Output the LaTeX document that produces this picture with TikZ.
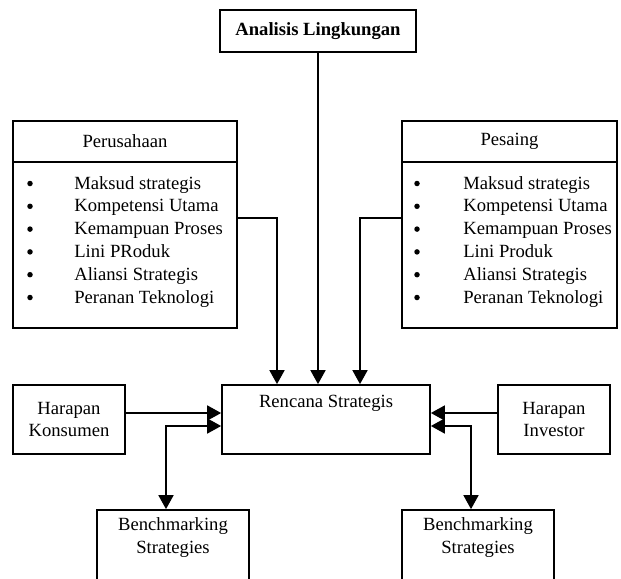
\documentclass[tikz,border=0pt]{standalone}
\usepackage{fontspec}
\setmainfont{Liberation Serif}
\usetikzlibrary{arrows.meta,calc}

\begin{document}
\begin{tikzpicture}[x=0.02cm, y=-0.02cm,
    every node/.style={font=\fontsize{10.6}{13}\selectfont},
    box/.style={draw, line width=1pt, inner sep=0pt, align=center},
    dot/.style={circle, fill, inner sep=0pt, minimum size=0.11cm},
    arr/.style={line width=1pt, -{Triangle[length=0.28cm,width=0.3cm]}},
    dbl/.style={line width=1pt, {Triangle[length=0.28cm,width=0.3cm]}-{Triangle[length=0.28cm,width=0.3cm]}}]
             \useasboundingbox (0,0) rectangle (621,578);
             \clip (0,0) rectangle (621,578);

             \node[box, minimum width=3.92cm, minimum height=0.84cm, font=\fontsize{10.6}{13}\selectfont\bfseries] (analisis) at (318, 31) {Analisis Lingkungan};

             % perusahaan
             \node[box, minimum width=4.48cm, minimum height=0.82cm] (perusahaan) at (125, 141.5) {Perusahaan};
             \node[box, minimum width=4.48cm, minimum height=3.32cm] (pbody) at (125, 245) {};
             \foreach \t [count=\i from 0] in {Maksud strategis, Kompetensi Utama, Kemampuan Proses, Lini PRoduk, Aliansi Strategis, Peranan Teknologi} {
               \node[dot] (pbul\i) at (30, 183.5+22.8*\i) {};
               \node[anchor=base west, inner sep=0pt] (pitem\i) at (74, 189+22.8*\i) {\t};
             }

             % pesaing
             \node[box, minimum width=4.3cm, minimum height=0.82cm] (pesaing) at (509.5, 141.5) {Pesaing};
             \node[box, minimum width=4.3cm, minimum height=3.32cm] (sbody) at (509.5, 245) {};
             \foreach \t [count=\i from 0] in {Maksud strategis, Kompetensi Utama, Kemampuan Proses, Lini Produk, Aliansi Strategis, Peranan Teknologi} {
               \node[dot] (sbul\i) at (417, 183.5+22.8*\i) {};
               \node[anchor=base west, inner sep=0pt] (sitem\i) at (463, 189+22.8*\i) {\t};
             }

             \node[box, minimum width=4.16cm, minimum height=1.38cm] (rencana) at (326, 419.5) {};
             \node[anchor=base] (rencanatext) at ($(rencana.north)+(0,23)$) {Rencana Strategis};
             \node[box, minimum width=2.24cm, minimum height=1.38cm] (konsumen) at (69, 419.5) {Harapan\\Konsumen};
             \node[box, minimum width=2.24cm, minimum height=1.38cm] (investor) at (554, 419.5) {Harapan\\Investor};

             \node[box, minimum width=3.04cm, minimum height=1.6cm] (benchL) at (173, 550) {};
             \node[align=center] (benchLtext) at ($(benchL.north)+(0,28.5)$) {Benchmarking\\Strategies};
             \node[box, minimum width=3.04cm, minimum height=1.6cm] (benchR) at (478, 550) {};
             \node[align=center] (benchRtext) at ($(benchR.north)+(0,28.5)$) {Benchmarking\\Strategies};

             \draw[arr] (analisis.south) -- (analisis.south |- rencana.north);
             \draw[arr] ($(pbody.east)+(0,-27)$) -| ($(rencana.north)+(-49,0)$);
             \draw[arr] ($(sbody.west)+(0,-27)$) -| ($(rencana.north)+(34,0)$);

             \draw[arr] ($(konsumen.east)+(0,-6.5)$) -- ($(rencana.west)+(0,-6.5)$);
             \draw[dbl] ($(rencana.west)+(0,6.5)$) -| ($(benchL.north)+(-7,0)$);
             \draw[arr] ($(investor.west)+(0,-6.5)$) -- ($(rencana.east)+(0,-6.5)$);
             \draw[dbl] ($(rencana.east)+(0,6.5)$) -| ($(benchR.north)+(-7,0)$);
\end{tikzpicture}
\end{document}
